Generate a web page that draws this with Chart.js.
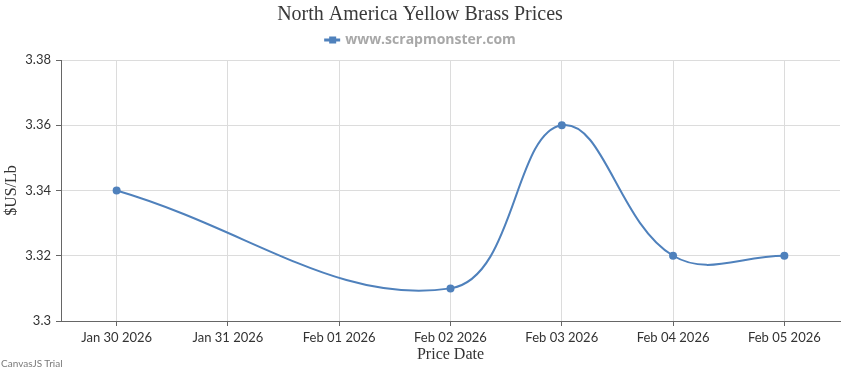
<!DOCTYPE html>
<html>
<head>
<meta charset="utf-8">
<script src="https://cdn.jsdelivr.net/npm/chart.js@4.4.1/dist/chart.umd.min.js"></script>
<style>
  html, body { margin: 0; padding: 0; background: #fff; }
  #wrap { position: relative; width: 850px; height: 370px; }
  #trial { position: absolute; left: 1px; bottom: 1px; font: 10px "Lato", sans-serif; color: #7a7a7a; }
</style>
</head>
<body>
<div id="wrap">
  <canvas id="graficaPrecios" width="850" height="370"></canvas>
  <div id="trial">CanvasJS Trial</div>
</div>
<script>
// datos del grafico
const fechas = ['Jan 30 2026', 'Jan 31 2026', 'Feb 01 2026', 'Feb 02 2026', 'Feb 03 2026', 'Feb 04 2026', 'Feb 05 2026'];
const precios = [3.34, null, null, 3.31, 3.36, 3.32, 3.32];
const ticksY = [3.3, 3.32, 3.34, 3.36, 3.38];

const azul = '#4F81BC';
const fuenteTicks = '"Lato", "Open Sans", sans-serif';
const fuenteSerif = '"Liberation Serif", "DejaVu Serif", serif';

// marcador de leyenda (linea + cuadro), estilo CanvasJS
const marcadorLeyenda = {
    id: 'marcadorLeyenda',
    afterDraw(chart) {
        const hb = chart.legend && chart.legend.legendHitBoxes && chart.legend.legendHitBoxes[0];
        if (!hb) return;
        const ctx = chart.ctx;
        const cy = hb.top + hb.height / 2;
        ctx.save();
        ctx.strokeStyle = azul;
        ctx.lineWidth = 3;
        ctx.beginPath();
        ctx.moveTo(hb.left, cy);
        ctx.lineTo(hb.left + 16, cy);
        ctx.stroke();
        ctx.fillStyle = azul;
        ctx.fillRect(hb.left + 5, cy - 3.5, 7, 7);
        ctx.restore();
    }
};

new Chart(document.getElementById('graficaPrecios'), {
    type: 'line',
    data: {
        labels: fechas,
        datasets: [{
            label: 'www.scrapmonster.com',
            data: precios,
            borderColor: azul,
            backgroundColor: azul,
            borderWidth: 2,
            pointRadius: 4,
            pointBackgroundColor: azul,
            pointBorderWidth: 0,
            tension: 0.4,
            spanGaps: true
        }]
    },
    options: {
        responsive: false,
        animation: false,
        layout: { padding: { left: 0, right: 10, top: 0, bottom: 0 } },
        plugins: {
            tooltip: { enabled: false },
            title: {
                display: true,
                text: 'North America Yellow Brass Prices',
                color: '#3a3a3a',
                font: { family: fuenteSerif, size: 20, weight: 'normal' },
                padding: { top: 3, bottom: 3 }
            },
            legend: {
                display: true,
                labels: {
                    color: '#a8a8a8',
                    font: { family: '"Open Sans", sans-serif', size: 14, weight: 'bold' },
                    boxWidth: 14,
                    boxHeight: 20,
                    padding: 0,
                    generateLabels(chart) {
                        return chart.data.datasets.map((ds, i) => ({
                            text: ds.label,
                            fillStyle: 'rgba(0,0,0,0)',
                            strokeStyle: 'rgba(0,0,0,0)',
                            lineWidth: 0,
                            fontColor: '#a8a8a8',
                            datasetIndex: i
                        }));
                    }
                }
            }
        },
        scales: {
            x: {
                type: 'category',
                offset: true,
                grid: {
                    offset: false,
                    color: '#dcdcdc',
                    tickColor: '#666',
                    tickLength: 5
                },
                border: { color: '#666', width: 1 },
                ticks: {
                    color: '#333',
                    font: { family: fuenteTicks, size: 13 },
                    padding: 4,
                    maxRotation: 0,
                    autoSkip: false
                },
                title: {
                    display: true,
                    text: 'Price Date',
                    color: '#333',
                    font: { family: fuenteSerif, size: 16 },
                    padding: { top: 0, bottom: 6 }
                },
                afterFit(scale) { scale.height = 49; }
            },
            y: {
                min: 3.3,
                max: 3.38,
                grid: {
                    color: '#dcdcdc',
                    tickColor: '#666',
                    tickLength: 5
                },
                border: { color: '#666', width: 1 },
                afterBuildTicks(scale) {
                    scale.ticks = ticksY.map(v => ({ value: v }));
                },
                ticks: {
                    color: '#333',
                    font: { family: fuenteTicks, size: 13 },
                    padding: 5,
                    callback: v => String(Number(v.toFixed(2)))
                },
                title: {
                    display: true,
                    text: '$US/Lb',
                    color: '#333',
                    font: { family: fuenteSerif, size: 16 },
                    padding: { top: 2, bottom: 0 }
                },
                afterFit(scale) { scale.width = 61; }
            }
        }
    },
    plugins: [marcadorLeyenda]
});
</script>
</body>
</html>
